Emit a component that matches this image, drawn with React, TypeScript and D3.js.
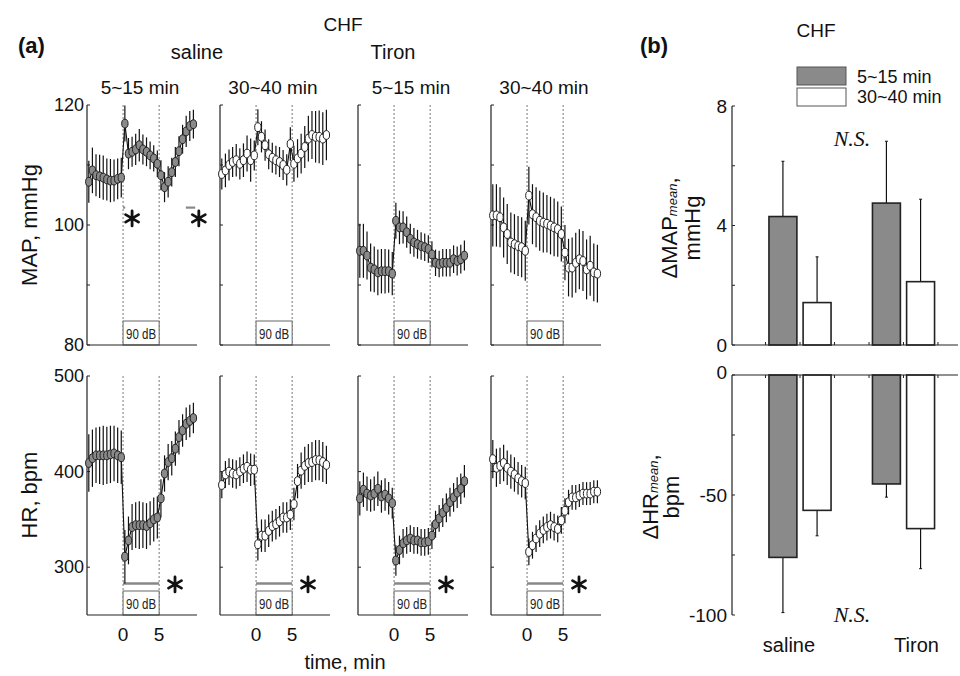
import React from "react";
import * as d3 from "d3";

// ---------- data ----------
const TIME = [-4.75, -4.25, -3.75, -3.25, -2.75, -2.25, -1.75, -1.25, -0.75, -0.25,
  0.25, 0.75, 1.25, 1.75, 2.25, 2.75, 3.25, 3.75, 4.25, 4.75,
  5.25, 5.75, 6.25, 6.75, 7.25, 7.75, 8.25, 8.75, 9.25, 9.75];

const PANEL_GROUP = ["saline", "Tiron"];
const PANEL_PERIOD = ["5~15 min", "30~40 min", "5~15 min", "30~40 min"];

const MAP_SAL_515 = [107.2, 109.1, 108.3, 108.1, 107.9, 107.6, 107.4, 107.4, 107.7, 107.9,
  116.9, 111.9, 112.2, 112.6, 113.3, 112.6, 112.2, 111.6, 111.1, 110.2,
  108.3, 106.3, 107.2, 108.8, 110.5, 112.3, 114.3, 115.6, 116.5, 116.8];
const MAP_SAL_515_SEM = [3.5, 3.8, 3.5, 3.6, 3.7, 3.5, 3.6, 3.5, 3.4, 3.3,
  3.0, 2.6, 2.5, 2.6, 2.7, 2.5, 2.4, 2.3, 2.2, 2.2,
  2.5, 2.5, 2.6, 2.4, 2.5, 2.5, 2.4, 2.6, 2.5, 2.4];
const MAP_SAL_3040 = [108.5, 109.1, 110, 110.5, 110.8, 110.2, 110.8, 111.9, 110.8, 111.6,
  116.3, 114.7, 113.3, 111.8, 111.2, 110.8, 110.5, 110, 109.2, 113.5,
  110.2, 111.1, 111.9, 113, 114.4, 115, 114.7, 114.7, 114.4, 115];
const MAP_SAL_3040_SEM = [2.6, 2.8, 2.6, 2.5, 2.7, 2.6, 2.8, 3.0, 3.6, 2.5,
  3.0, 2.6, 2.6, 2.5, 2.5, 2.4, 2.5, 2.5, 2.6, 2.8,
  3.0, 3.2, 3.3, 3.5, 3.8, 4.0, 4.3, 4.4, 4.4, 4.2];
const MAP_TIR_515 = [95.7, 95.7, 94.9, 92.9, 92.6, 92.1, 92.3, 92.3, 92.3, 91.9,
  100.7, 99.6, 99.6, 98.8, 97.7, 97.1, 96.8, 96.5, 96.3, 96,
  95.1, 93.7, 93.5, 93.7, 93.7, 93.7, 94.3, 94, 94.3, 94.9];
const MAP_TIR_515_SEM = [4.5, 4.5, 4.0, 4.0, 3.8, 3.8, 3.7, 3.7, 3.6, 3.6,
  3.0, 2.8, 2.7, 2.6, 2.5, 2.4, 2.4, 2.3, 2.3, 2.3,
  2.2, 2.2, 2.2, 2.3, 2.3, 2.3, 2.3, 2.4, 2.4, 2.5];
const MAP_TIR_3040 = [101.6, 101.6, 101.3, 99.6, 98.5, 97.1, 96.8, 96.5, 96.3, 95.7,
  104.9, 101.8, 101.3, 100.7, 100.4, 100.2, 99.9, 99.6, 99.3, 98.5,
  95.4, 92.9, 92.9, 93.7, 94.3, 94, 92.6, 93.2, 92.1, 91.9];
const MAP_TIR_3040_SEM = [5.2, 5.2, 5.0, 5.0, 5.0, 5.0, 5.0, 5.0, 5.0, 5.0,
  4.8, 5.0, 5.0, 5.0, 5.0, 4.8, 4.8, 4.8, 4.6, 4.6,
  4.6, 4.8, 5.0, 5.0, 5.0, 5.0, 5.0, 5.0, 4.8, 4.8];

const HR_SAL_515 = [409, 414, 417, 417, 417, 417, 418, 419, 417, 415,
  311, 328, 342, 344, 344, 344, 343, 346, 350, 352,
  372, 398, 410, 414, 424, 436, 443, 450, 453, 456];
const HR_SAL_515_SEM = [30, 30, 29, 30, 31, 30, 30, 29, 29, 28,
  28, 25, 24, 24, 25, 24, 24, 23, 23, 22,
  20, 19, 19, 18, 18, 18, 17, 17, 17, 16];
const HR_SAL_3040 = [386, 397, 400, 398, 397, 400, 403, 405, 402, 402,
  324, 333, 333, 338, 343, 345, 348, 352, 352, 355,
  366, 390, 401, 406, 409, 410, 412, 412, 410, 407];
const HR_SAL_3040_SEM = [14, 14, 14, 15, 15, 15, 15, 16, 17, 16,
  17, 17, 17, 17, 16, 16, 16, 16, 16, 16,
  17, 18, 19, 20, 20, 21, 21, 21, 21, 20];
const HR_TIR_515 = [372, 381, 377, 375, 377, 382, 374, 376, 372, 367,
  307, 318, 325, 328, 330, 328, 328, 326, 326, 327,
  333, 345, 351, 357, 362, 368, 373, 378, 382, 390];
const HR_TIR_515_SEM = [18, 18, 18, 17, 18, 18, 17, 17, 17, 16,
  16, 15, 15, 14, 14, 14, 14, 14, 14, 14,
  14, 14, 14, 15, 15, 15, 15, 16, 16, 17];
const HR_TIR_3040 = [413, 404, 406, 409, 404, 400, 397, 393, 390, 388,
  316, 323, 330, 335, 339, 342, 344, 342, 340, 349,
  359, 368, 373, 373, 375, 377, 377, 377, 379, 379];
const HR_TIR_3040_SEM = [20, 20, 19, 19, 18, 18, 18, 17, 17, 17,
  14, 14, 14, 14, 14, 14, 14, 14, 14, 14,
  13, 13, 13, 13, 12, 12, 12, 12, 12, 12];

const MAP_TICKS = [80, 90, 100, 110, 120];
const MAP_LABELS = [80, 100, 120];
const HR_TICKS = [300, 400, 500];
const HR_LABELS = [300, 400, 500];
const X_LABELS = [0, 5];

// bar chart (b)
const BAR_GROUPS = ["saline", "Tiron"];
const D_MAP_515 = [4.3, 4.75];
const D_MAP_515_SEM = [1.85, 2.07];
const D_MAP_3040 = [1.42, 2.12];
const D_MAP_3040_SEM = [1.53, 2.76];
const D_HR_515 = [-76, -45.4];
const D_HR_515_SEM = [23, 5.5];
const D_HR_3040 = [-56.4, -64];
const D_HR_3040_SEM = [10.6, 16.7];
const D_MAP_TICKS = [0, 2, 4, 6, 8];
const D_MAP_LABELS = [0, 4, 8];
const D_HR_TICKS = [0, -25, -50, -75, -100];
const D_HR_LABELS = [0, -50, -100];
const BAR_XTICKS = [0.667, 1, 1.333, 1.667, 2, 2.333];

// ---------- layout ----------
const FONT = "'Liberation Sans', Arial, sans-serif";
const PANEL_LEFT = [87, 220, 358, 491];
const PANEL_W = 110;
const MAP_TOP = 105, MAP_BOT = 345;
const HR_TOP = 376, HR_BOT = 615;
const GRAY = "#8a8a8a";

function Asterisk({ x, y, r = 7.5 }: { x: number; y: number; r?: number }) {
  const d = [90, 30, 150]
    .map((a) => {
      const rad = (a * Math.PI) / 180;
      const dx = r * Math.cos(rad), dy = r * Math.sin(rad);
      return `M${x - dx},${y - dy}L${x + dx},${y + dy}`;
    })
    .join("");
  return <path d={d} stroke="#111" strokeWidth={2.8} strokeLinecap="round" />;
}

type PanelProps = {
  left: number;
  top: number;
  bottom: number;
  domain: [number, number];
  ticks: number[];
  labels: number[] | null;
  values: number[];
  sem: number[];
  fill: string;
  xLabels: boolean;
  children?: (x: d3.ScaleLinear<number, number>, y: d3.ScaleLinear<number, number>) => React.ReactNode;
};

function TimePanel(p: PanelProps) {
  const x = d3.scaleLinear().domain([-5, 10.25]).range([p.left, p.left + PANEL_W]);
  const y = d3.scaleLinear().domain(p.domain).range([p.bottom, p.top]);
  const line = d3
    .line<number>()
    .x((_, i) => x(TIME[i]))
    .y((v) => y(v));
  const x0 = x(0), x5 = x(5);
  return (
    <g>
      {[x0, x5].map((xx, i) => (
        <line key={i} x1={xx} x2={xx} y1={p.top} y2={p.bottom} stroke="#777" strokeWidth={1} strokeDasharray="2,2" />
      ))}
      <rect x={x0} y={p.bottom - 24} width={x5 - x0} height={24} fill="#fff" stroke="#666" strokeWidth={1} />
      <text x={(x0 + x5) / 2} y={p.bottom - 6.5} textAnchor="middle" fontFamily={FONT} fontSize={15}
        textLength={30} lengthAdjust="spacingAndGlyphs" fill="#222">90 dB</text>
      <line x1={p.left} x2={p.left} y1={p.top} y2={p.bottom} stroke="#222" strokeWidth={1.2} />
      <line x1={p.left} x2={p.left + PANEL_W} y1={p.bottom} y2={p.bottom} stroke="#222" strokeWidth={1.2} />
      {p.ticks.map((t) => (
        <line key={t} x1={p.left} x2={p.left + 3} y1={y(t)} y2={y(t)} stroke="#222" strokeWidth={1} />
      ))}
      {p.labels &&
        p.labels.map((t) => (
          <text key={t} x={p.left - 3} y={y(t)} textAnchor="end" dominantBaseline="central"
            fontFamily={FONT} fontSize={18} fill="#111">{t}</text>
        ))}
      {p.xLabels &&
        X_LABELS.map((t) => (
          <text key={t} x={x(t)} y={634} textAnchor="middle" dominantBaseline="central"
            fontFamily={FONT} fontSize={19} fill="#111">{t}</text>
        ))}
      {p.children && p.children(x, y)}
      {p.values.map((v, i) => (
        <line key={"e" + i} x1={x(TIME[i])} x2={x(TIME[i])} y1={y(v - p.sem[i])} y2={y(v + p.sem[i])}
          stroke="#111" strokeWidth={1.2} />
      ))}
      <path d={line(p.values) || ""} fill="none" stroke="#111" strokeWidth={1.1} />
      {p.values.map((v, i) => (
        <ellipse key={"m" + i} cx={x(TIME[i])} cy={y(v)} rx={3.2} ry={4.4} fill={p.fill} stroke="#222" strokeWidth={1} />
      ))}
    </g>
  );
}

function BarChart() {
  const xB = d3.scaleLinear().domain([1, 2]).range([800, 903.5]);
  const yM = d3.scaleLinear().domain([0, 8]).range([345, 106]);
  const yH = d3.scaleLinear().domain([0, -100]).range([375, 615]);
  const axL = 732, axR = 958;
  const bw = 0.27, off = 0.165;
  const barW = xB(1 + bw) - xB(1);
  const series = [
    { mapV: D_MAP_515, mapE: D_MAP_515_SEM, hrV: D_HR_515, hrE: D_HR_515_SEM, fill: GRAY, dx: -off },
    { mapV: D_MAP_3040, mapE: D_MAP_3040_SEM, hrV: D_HR_3040, hrE: D_HR_3040_SEM, fill: "#fff", dx: off },
  ];
  return (
    <g>
      {series.map((s, si) =>
        BAR_GROUPS.map((g, gi) => {
          const cx = xB(gi + 1 + s.dx);
          const v = s.mapV[gi], e = s.mapE[gi];
          return (
            <g key={"m" + si + g}>
              <line x1={cx} x2={cx} y1={yM(v)} y2={yM(v + e)} stroke="#111" strokeWidth={1.2} />
              <line x1={cx - 1.5} x2={cx + 1.5} y1={yM(v + e)} y2={yM(v + e)} stroke="#111" strokeWidth={1} />
              <rect x={cx - barW / 2} y={yM(v)} width={barW} height={yM(0) - yM(v)} fill={s.fill} stroke="#222" strokeWidth={1.6} />
            </g>
          );
        })
      )}
      {series.map((s, si) =>
        BAR_GROUPS.map((g, gi) => {
          const cx = xB(gi + 1 + s.dx);
          const v = s.hrV[gi], e = s.hrE[gi];
          return (
            <g key={"h" + si + g}>
              <line x1={cx} x2={cx} y1={yH(v)} y2={yH(v - e)} stroke="#111" strokeWidth={1.2} />
              <line x1={cx - 1.5} x2={cx + 1.5} y1={yH(v - e)} y2={yH(v - e)} stroke="#111" strokeWidth={1} />
              <rect x={cx - barW / 2} y={yH(0)} width={barW} height={yH(v) - yH(0)} fill={s.fill} stroke="#222" strokeWidth={1.6} />
            </g>
          );
        })
      )}
      <line x1={axL} x2={axL} y1={yM(8)} y2={yM(0)} stroke="#222" strokeWidth={1.2} />
      <line x1={axL} x2={axR} y1={yM(0)} y2={yM(0)} stroke="#222" strokeWidth={1.2} />
      {D_MAP_TICKS.map((t) => (
        <line key={t} x1={axL} x2={axL + 3} y1={yM(t)} y2={yM(t)} stroke="#222" strokeWidth={1} />
      ))}
      {D_MAP_LABELS.map((t) => (
        <text key={t} x={axL - 5} y={yM(t)} textAnchor="end" dominantBaseline="central" fontFamily={FONT} fontSize={19} fill="#111">{t}</text>
      ))}
      {BAR_XTICKS.map((t) => (
        <line key={t} x1={xB(t)} x2={xB(t)} y1={yM(0)} y2={yM(0) - 3} stroke="#222" strokeWidth={1} />
      ))}
      <line x1={axL} x2={axL} y1={yH(0)} y2={yH(-100)} stroke="#222" strokeWidth={1.2} />
      <line x1={axL} x2={axR} y1={yH(0)} y2={yH(0)} stroke="#222" strokeWidth={1.2} />
      {D_HR_TICKS.map((t) => (
        <line key={t} x1={axL} x2={axL + 3} y1={yH(t)} y2={yH(t)} stroke="#222" strokeWidth={1} />
      ))}
      {D_HR_LABELS.map((t) => (
        <text key={t} x={axL - 5} y={t === 0 ? yH(t) - 3 : yH(t)} textAnchor="end" dominantBaseline="central" fontFamily={FONT} fontSize={19} fill="#111">{t}</text>
      ))}
      {BAR_XTICKS.map((t) => (
        <line key={t} x1={xB(t)} x2={xB(t)} y1={yH(0)} y2={yH(0) + 3} stroke="#222" strokeWidth={1} />
      ))}
      {BAR_GROUPS.map((g, gi) => (
        <text key={g} x={xB(gi + 1) + (gi === 0 ? -11 : 13)} y={645} textAnchor="middle" dominantBaseline="central" fontFamily={FONT} fontSize={20} fill="#111">{g}</text>
      ))}
      <text x={852} y={138} textAnchor="middle" dominantBaseline="central" fontFamily="'Liberation Serif', 'Times New Roman', serif" fontStyle="italic" fontSize={22} fill="#111">N.S.</text>
      <text x={852} y={614} textAnchor="middle" dominantBaseline="central" fontFamily="'Liberation Serif', 'Times New Roman', serif" fontStyle="italic" fontSize={22} fill="#111">N.S.</text>
      <rect x={797} y={67} width={49} height={18} fill={GRAY} stroke="#555" strokeWidth={1} />
      <rect x={797} y={88} width={49} height={18} fill="#fff" stroke="#555" strokeWidth={1} />
      <text x={857} y={77} dominantBaseline="central" fontFamily={FONT} fontSize={18} fill="#111">{PANEL_PERIOD[0]}</text>
      <text x={857} y={97} dominantBaseline="central" fontFamily={FONT} fontSize={18} fill="#111">{PANEL_PERIOD[1]}</text>
      <text transform="translate(677,228) rotate(-90)" textAnchor="middle" fontFamily={FONT} fontSize={22} fill="#111">
        ΔMAP<tspan fontSize={13} fontStyle="italic">mean</tspan>,
      </text>
      <text transform="translate(700,228) rotate(-90)" textAnchor="middle" fontFamily={FONT} fontSize={22} fill="#111">mmHg</text>
      <text transform="translate(658,497) rotate(-90)" textAnchor="middle" fontFamily={FONT} fontSize={22} fill="#111">
        ΔHR<tspan fontSize={13} fontStyle="italic">mean</tspan>,
      </text>
      <text transform="translate(679,497) rotate(-90)" textAnchor="middle" fontFamily={FONT} fontSize={22} fill="#111">bpm</text>
      <text x={640} y={45} dominantBaseline="central" fontFamily={FONT} fontWeight="bold" fontSize={22} fill="#111">(b)</text>
      <text x={816} y={30} textAnchor="middle" dominantBaseline="central" fontFamily={FONT} fontSize={19} fill="#111">CHF</text>
    </g>
  );
}

export default function App() {
  const mapSets = [
    [MAP_SAL_515, MAP_SAL_515_SEM],
    [MAP_SAL_3040, MAP_SAL_3040_SEM],
    [MAP_TIR_515, MAP_TIR_515_SEM],
    [MAP_TIR_3040, MAP_TIR_3040_SEM],
  ];
  const hrSets = [
    [HR_SAL_515, HR_SAL_515_SEM],
    [HR_SAL_3040, HR_SAL_3040_SEM],
    [HR_TIR_515, HR_TIR_515_SEM],
    [HR_TIR_3040, HR_TIR_3040_SEM],
  ];
  const fills = [GRAY, "#fff", GRAY, "#fff"];
  return (
    <svg width={960} height={676} style={{ position: "absolute", left: 0, top: 0, background: "#fff" }}>
      <rect width={960} height={676} fill="#fff" />
      <text x={18} y={45} dominantBaseline="central" fontFamily={FONT} fontWeight="bold" fontSize={22} fill="#111">(a)</text>
      <text x={343} y={24} textAnchor="middle" dominantBaseline="central" fontFamily={FONT} fontSize={19} fill="#111">CHF</text>
      <text x={197} y={52} textAnchor="middle" dominantBaseline="central" fontFamily={FONT} fontSize={20} fill="#111">{PANEL_GROUP[0]}</text>
      <text x={393} y={52} textAnchor="middle" dominantBaseline="central" fontFamily={FONT} fontSize={20} fill="#111">{PANEL_GROUP[1]}</text>
      {PANEL_LEFT.map((l, i) => (
        <text key={i} x={l + 53} y={87} textAnchor="middle" dominantBaseline="central" fontFamily={FONT} fontSize={19} fill="#111">{PANEL_PERIOD[i]}</text>
      ))}
      <text transform="translate(37,225) rotate(-90)" textAnchor="middle" fontFamily={FONT} fontSize={22} fill="#111">MAP, mmHg</text>
      <text transform="translate(37,495) rotate(-90)" textAnchor="middle" fontFamily={FONT} fontSize={22} fill="#111">HR, bpm</text>
      <text x={345} y={662} textAnchor="middle" dominantBaseline="central" fontFamily={FONT} fontSize={20} fill="#111">time, min</text>

      {PANEL_LEFT.map((l, i) => (
        <TimePanel key={"map" + i} left={l} top={MAP_TOP} bottom={MAP_BOT} domain={[80, 120]}
          ticks={MAP_TICKS} labels={i === 0 ? MAP_LABELS : null}
          values={mapSets[i][0]} sem={mapSets[i][1]} fill={fills[i]} xLabels={false}>
          {i === 0
            ? (x, y) => (
                <g>
                  <line x1={x(0)} x2={x(0.3)} y1={y(102.9)} y2={y(102.9)} stroke="#888" strokeWidth={2.2} />
                  <line x1={x(8.7)} x2={x(10)} y1={y(102.9)} y2={y(102.9)} stroke="#888" strokeWidth={2.2} />
                  <Asterisk x={x(1.25)} y={y(101.1)} />
                  <Asterisk x={x(10.5)} y={y(101.1)} />
                </g>
              )
            : undefined}
        </TimePanel>
      ))}
      {PANEL_LEFT.map((l, i) => (
        <TimePanel key={"hr" + i} left={l} top={HR_TOP} bottom={HR_BOT} domain={[250, 500]}
          ticks={HR_TICKS} labels={i === 0 ? HR_LABELS : null}
          values={hrSets[i][0]} sem={hrSets[i][1]} fill={fills[i]} xLabels={true}>
          {(x, y) => (
            <g>
              <line x1={x(0)} x2={x(5)} y1={y(283)} y2={y(283)} stroke="#888" strokeWidth={2.4} />
              <Asterisk x={x(7.2)} y={y(282)} />
            </g>
          )}
        </TimePanel>
      ))}
      <BarChart />
    </svg>
  );
}
